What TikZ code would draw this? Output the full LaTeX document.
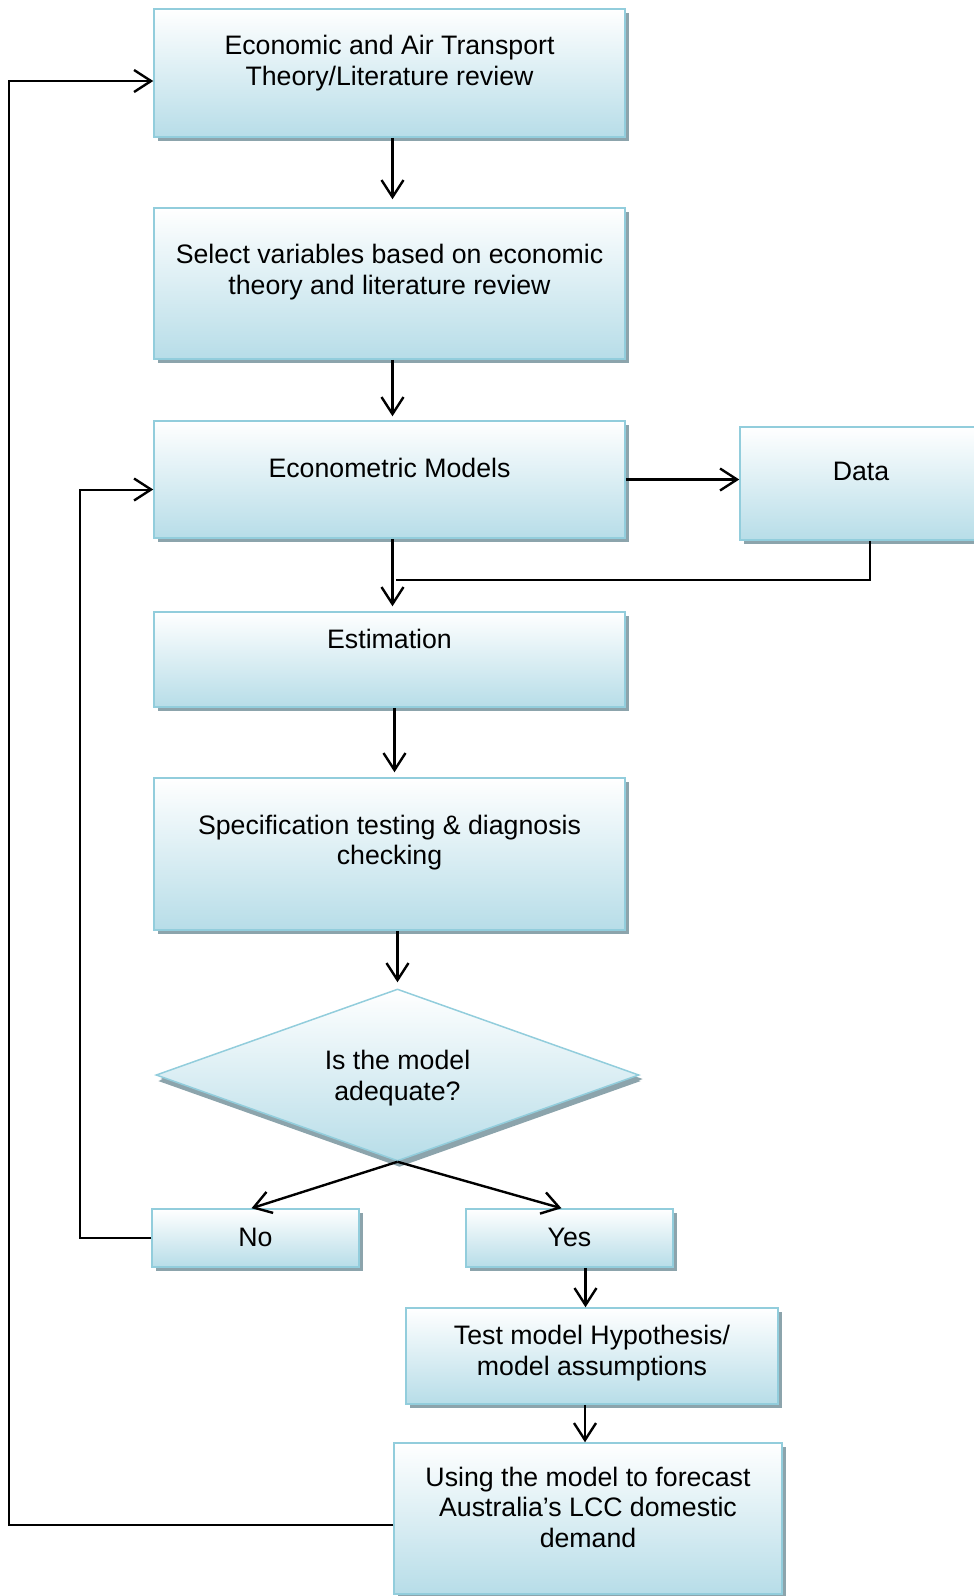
\documentclass[tikz,border=0pt]{standalone}
\usepackage{fontspec}
\setmainfont{Liberation Sans}
\usetikzlibrary{arrows.meta,shapes.geometric,shadows}
\definecolor{boxline}{RGB}{146,205,220}
\definecolor{boxfill}{RGB}{183,221,232}
\definecolor{boxshade}{RGB}{140,164,172}
\tikzset{
  stepbox/.style={draw=boxline, line width=1.5pt, top color=white, bottom color=boxfill,
    inner sep=0pt, drop shadow={shadow xshift=4pt, shadow yshift=-4pt, fill=boxshade, opacity=1}},
  steptext/.style={align=center, inner sep=0pt, font=\fontsize{26.7}{30.5}\selectfont},
  barb/.style={-{Straight Barb[length=17pt,width=22pt,line width=2.4pt]}},
  flow/.style={line width=2.4pt, barb},
  back/.style={line width=2pt}
}
\begin{document}
\begin{tikzpicture}[x=1pt,y=-1pt]
        \clip (0,0) rectangle (974,1596);
        % boxes
        \node[stepbox, minimum width=471pt, minimum height=128pt] (lit) at (389.5,73) {};
        \node[stepbox, minimum width=471pt, minimum height=151pt] (sel) at (389.5,283.5) {};
        \node[stepbox, minimum width=471pt, minimum height=117pt] (models) at (389.5,479.5) {};
        \node[stepbox, minimum width=242pt, minimum height=113pt] (data) at (861,483.5) {};
        \node[stepbox, minimum width=471pt, minimum height=95pt] (est) at (389.5,659.5) {};
        \node[stepbox, minimum width=471pt, minimum height=152pt] (spec) at (389.5,854) {};
        \node[stepbox, diamond, minimum width=483pt, minimum height=172pt,
              drop shadow={shadow xshift=2pt, shadow yshift=-6pt, fill=boxshade, opacity=1}] (dia) at (397.5,1075) {};
        \node[stepbox, minimum width=207pt, minimum height=58pt] (no) at (255.5,1238) {};
        \node[stepbox, minimum width=207pt, minimum height=58pt] (yes) at (569.5,1238) {};
        \node[stepbox, minimum width=372pt, minimum height=96pt] (test) at (592,1356) {};
        \node[stepbox, minimum width=388pt, minimum height=151pt] (use) at (588,1518.5) {};
        % texts
        \node[steptext] (lit-t) at (389.5,63) {Economic and Air Transport\\Theory/Literature review};
        \node[steptext] (sel-t) at (389.5,272) {Select variables based on economic\\theory and literature review};
        \node[steptext] (models-t) at (389.5,468) {Econometric Models};
        \node[steptext] (data-t) at (861,471) {Data};
        \node[steptext] (est-t) at (389.5,639) {Estimation};
        \node[steptext] (spec-t) at (389.5,842.5) {Specification testing \& diagnosis\\checking};
        \node[steptext] (dia-t) at (397.5,1078) {Is the model\\adequate?};
        \node[steptext] (no-t) at (255.5,1237) {No};
        \node[steptext] (yes-t) at (569.5,1237) {Yes};
        \node[steptext] (test-t) at (592,1353) {Test model Hypothesis/\\model assumptions};
        \node[steptext] (use-t) at (588,1507) {Using the model to forecast\\Australia’s LCC domestic\\demand};
        % connectors
        \draw[flow, shorten >=8pt] ([xshift=3pt]lit.south) -- ([xshift=3pt]sel.north);
        \draw[flow, shorten >=4pt] ([xshift=3pt]sel.south) -- ([xshift=3pt]models.north);
        \draw[flow, shorten >=5pt] ([xshift=3pt]models.south) -- ([xshift=3pt]est.north);
        \draw[flow, shorten >=5pt] ([xshift=5pt]est.south) -- ([xshift=5pt]spec.north);
        \draw[flow, shorten >=6pt] ([xshift=8pt]spec.south) -- ([xshift=8pt]spec.south |- dia.north);
        \draw[flow] (models.east) -- (models.east -| data.west);
        \coordinate (join) at ([xshift=6pt,yshift=-41pt]models.south);
        \draw[line width=1.5pt] ([xshift=9pt]data.south) |- (join);
        \draw[flow] (dia.south) -- ([xshift=-4pt]no.north);
        \draw[flow] (dia.south) -- ([xshift=-8pt]yes.north);
        \draw[flow] ([xshift=16pt]yes.south) -- ([xshift=16pt]yes.south |- test.north);
        \draw[flow] ([xshift=-7pt]test.south) -- ([xshift=-7pt]test.south |- use.north);
        \draw[back, barb] (no.west) -- ++(-71,0) |- ([yshift=-10pt]models.west);
        \draw[back, barb] ([yshift=-6pt]use.west) -- ++(-384,0) |- ([yshift=-8pt]lit.west);
    \end{tikzpicture}
\end{document}
